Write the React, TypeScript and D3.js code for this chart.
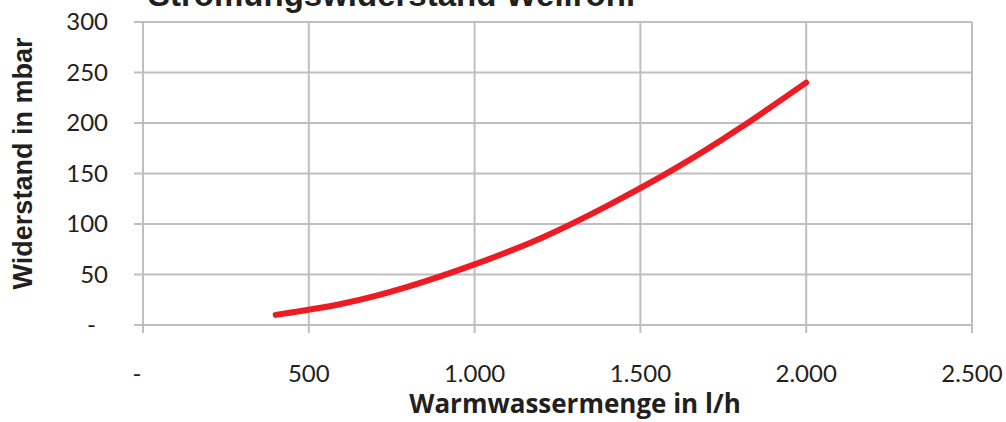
import React from 'react';
import * as d3 from 'd3';

// Warmwassermenge (l/h) vs. Widerstand (mbar)
const flow = [400, 600, 800, 1000, 1200, 1400, 1600, 1800, 2000];
const resistance = [10, 21, 38, 60, 86, 118, 154, 195, 240];

const xTicks = [0, 500, 1000, 1500, 2000, 2500];
const yTicks = [0, 50, 100, 150, 200, 250, 300];

const title = 'Strömungswiderstand Wellrohr';
const xTitle = 'Warmwassermenge in l/h';
const yTitle = 'Widerstand in mbar';

const fmt = (v: number) => (v === 0 ? '-' : d3.format(',')(v).replace(/,/g, '.'));

const W = 1006;
const H = 422;

export default function App() {
  const x = d3.scaleLinear().domain([0, 2500]).range([143, 972]);
  const y = d3.scaleLinear().domain([0, 300]).range([325, 22]);

  const points = flow.map((f, i) => [f, resistance[i]] as [number, number]);
  const line = d3
    .line<[number, number]>()
    .x(d => x(d[0]))
    .y(d => y(d[1]))
    .curve(d3.curveNatural);

  const grid = '#bfbfc1';
  const tickFont = 'Lato, "Open Sans", sans-serif';

  return (
    <div style={{ position: 'absolute', left: 0, top: 0 }}>
      <svg width={W} height={H} style={{ display: 'block', background: '#fff' }}>
        {/* horizontal grid */}
        {yTicks.map(t => (
          <line key={'h' + t} x1={134} x2={x(2500)} y1={y(t)} y2={y(t)} stroke={grid} strokeWidth={2} />
        ))}
        {/* vertical grid */}
        {xTicks.map(t => (
          <line key={'v' + t} x1={x(t)} x2={x(t)} y1={y(300)} y2={333} stroke={grid} strokeWidth={2} />
        ))}

        {/* y tick labels */}
        {yTicks.map(t => (
          <text
            key={'yl' + t}
            x={t === 0 ? 96 : 108}
            y={y(t)}
            dy="0.35em"
            textAnchor="end"
            fontFamily={tickFont}
            fontSize={24}
            fill="#231f20"
          >
            {fmt(t)}
          </text>
        ))}

        {/* x tick labels */}
        {xTicks.map(t => (
          <text
            key={'xl' + t}
            x={t === 0 ? x(t) - 6 : x(t)}
            y={382}
            textAnchor="middle"
            fontFamily={tickFont}
            fontSize={24}
            fill="#231f20"
          >
            {fmt(t)}
          </text>
        ))}

        {/* data */}
        <path
          d={line(points) ?? ''}
          fill="none"
          stroke="#ed1c24"
          strokeWidth={6}
          strokeLinecap="round"
          strokeLinejoin="round"
        />

        {/* titles */}
        <text
          x={148}
          y={6}
          fontFamily='"Liberation Sans", Arial, sans-serif'
          fontWeight="bold"
          fontSize={33}
          fill="#231f20"
        >
          {title}
        </text>
        <text
          x={575}
          y={413}
          textAnchor="middle"
          fontFamily='"Open Sans", sans-serif'
          fontWeight="bold"
          fontSize={26}
          fill="#231f20"
        >
          {xTitle}
        </text>
        <text
          transform={`translate(32,${(37 + 290) / 2}) rotate(-90)`}
          textAnchor="middle"
          fontFamily='"Liberation Sans", Arial, sans-serif'
          fontWeight="bold"
          fontSize={27}
          fill="#231f20"
        >
          {yTitle}
        </text>
      </svg>
    </div>
  );
}
